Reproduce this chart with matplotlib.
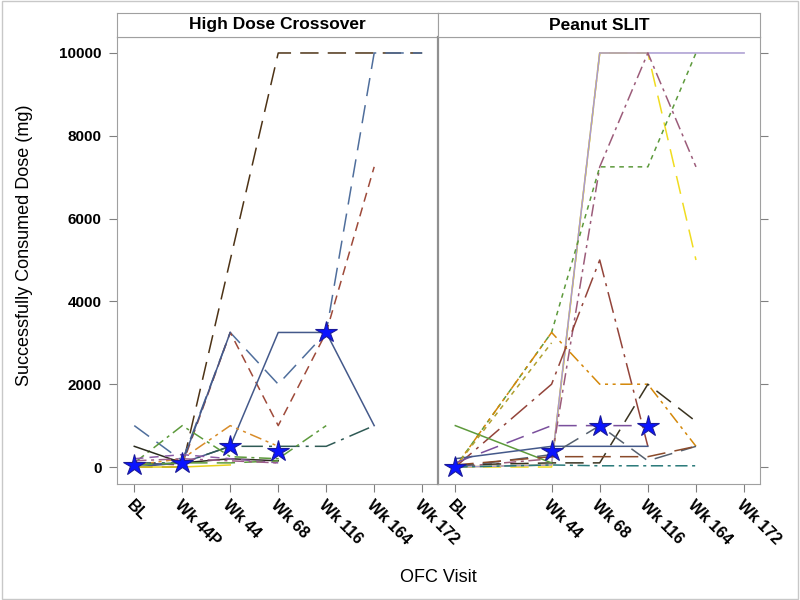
import numpy as np
import matplotlib.pyplot as plt
from matplotlib.patches import Rectangle

plt.rcParams['font.family'] = ['Liberation Sans', 'DejaVu Sans']

visits = ['BL', 'Wk 44P', 'Wk 44', 'Wk 68', 'Wk 116', 'Wk 164', 'Wk 172']
panels = ['High Dose Crossover', 'Peanut SLIT']
n = None

# High Dose Crossover subjects (BL, 44P, 44, 68, 116, 164, 172)
hd_1 = [0, 0, n, 10000, 10000, 10000, 10000]
hd_2 = [1000, 150, 3250, 2000, 3250, 10000, 10000]
hd_3 = [100, 50, 3250, 1000, 3250, 7250, n]
hd_4 = [50, 100, 500, 3250, 3250, 1000, n]
hd_5 = [0, 100, 3250, n, n, n, n]
hd_6 = [100, 100, 500, 500, 500, 1000, n]
hd_7 = [100, 1000, 250, 200, 1000, n, n]
hd_8 = [50, 200, 1000, 500, n, n, n]
hd_9 = [500, 100, 200, 150, n, n, n]
hd_10 = [200, 300, 200, 100, n, n, n]
hd_11 = [0, 0, 50, n, n, n, n]
hd_12 = [50, 100, 100, 150, n, n, n]
hd_13 = [150, 200, 150, 100, n, n, n]
hd_star = [50, 100, 500, 375, 3250, n, n]

# Peanut SLIT subjects (no Wk 44P visit)
sl_1 = [0, n, 50, 10000, 10000, n, n]
sl_2 = [0, n, 0, 10000, 10000, 5000, n]
sl_3 = [0, n, 50, 10000, 10000, 10000, 10000]
sl_4 = [0, n, 200, 7250, 10000, 7250, n]
sl_5 = [0, n, 3250, 7250, 7250, 10000, n]
sl_6 = [0, n, 3250, 2000, 2000, 500, n]
sl_7 = [50, n, 100, 100, 2000, 1100, n]
sl_8 = [0, n, 2000, 5000, 500, n, n]
sl_9 = [1000, n, 100, n, n, n, n]
sl_10 = [100, n, 1000, 1000, 1000, n, n]
sl_11 = [200, n, 500, 500, 500, n, n]
sl_12 = [0, n, 300, 1000, 150, 500, n]
sl_13 = [0, n, 50, 30, 30, 30, n]
sl_14 = [50, n, 250, 250, 250, 500, n]
sl_15 = [0, n, 3000, n, n, n, n]
sl_star = [0, n, 375, 1000, 1000, n, n]

hd_lines = [hd_1, hd_2, hd_3, hd_4, hd_5, hd_6, hd_7, hd_8, hd_9, hd_10, hd_11, hd_12, hd_13]
sl_lines = [sl_1, sl_2, sl_3, sl_4, sl_5, sl_6, sl_7, sl_8, sl_9, sl_10, sl_11, sl_12, sl_13, sl_14, sl_15]

LD = (0, (12, 6))
DA = (0, (6, 4))
SD = (0, (3, 3))
DD = (0, (8, 3, 2, 3))
LDD = (0, (14, 4, 2, 4))
D2 = (0, (8, 3, 2, 3, 2, 3))

hd_styles = [('#4d3316', LD), ('#4f6e9c', LD), ('#9e4a3a', DA), ('#44598a', '-'),
             ('#44598a', '-'), ('#2f5a55', LDD), ('#5d9a3c', DD), ('#d88c2a', D2),
             ('#2b2b1e', '-'), ('#8a5aa5', DA), ('#e8d21c', '-'), ('#5d9a3c', LD),
             ('#9c5c8a', DD)]
sl_styles = [('#f0dc20', '-'), ('#f0dc20', LD), ('#a99ad0', '-'), ('#9c5c7a', DD),
             ('#5d9a3c', SD), ('#d4880a', D2), ('#3a3320', LD), ('#93443a', LDD),
             ('#5d9a3c', '-'), ('#7a4f9c', LD), ('#44598a', '-'), ('#55606e', LD),
             ('#2a7a7a', DD), ('#8a4a2a', LD), ('#b0a030', SD)]

fig = plt.figure(figsize=(8, 6), dpi=100)
fig.patches.append(Rectangle((0.002, 0.002), 0.996, 0.996, transform=fig.transFigure,
                             fill=False, edgecolor='#c8c8c8', lw=1))

x0, xm, x1 = 117 / 800, 438 / 800, 760 / 800
yb, yt = 1 - 484 / 600, 1 - 37 / 600
hh = 24 / 600
xs = np.arange(len(visits))

for k, (title, lines, styles, star) in enumerate(
        [(panels[0], hd_lines, hd_styles, hd_star), (panels[1], sl_lines, sl_styles, sl_star)]):
    left = x0 if k == 0 else xm
    width = (xm - x0) if k == 0 else (x1 - xm)
    ax = fig.add_axes([left, yb, width, yt - yb])
    for vals, (c, ls) in zip(lines, styles):
        v = np.array([np.nan if q is None else q for q in vals], dtype=float)
        m = ~np.isnan(v)
        ax.plot(xs[m], v[m], color=c, ls=ls, lw=1.1)
    s = np.array([np.nan if q is None else q for q in star], dtype=float)
    m = ~np.isnan(s)
    ax.plot(xs[m], s[m], ls='none', marker='*', ms=16, mfc='#0a14ff', mec='#1a1a9a', mew=0.8, zorder=5)
    ax.set_xlim(-0.36, 6.33)
    ax.set_ylim(-410, 10386)
    for sp in ax.spines.values():
        sp.set_color('#a0a0a0')
    ax.tick_params(colors='#808080', length=6, labelcolor='black')
    ax.tick_params(axis='y', pad=5)
    if k == 0:
        ax.set_xticks(xs)
        ax.set_xticklabels(visits)
        ax.set_yticks(range(0, 10001, 2000))
        ax.set_yticklabels([str(t) for t in range(0, 10001, 2000)], fontsize=11, fontweight='bold')
    else:
        tx = [0, 2, 3, 4, 5, 6]
        ax.set_xticks(tx)
        ax.set_xticklabels([visits[i] for i in tx])
        ax.set_yticks(range(0, 10001, 2000))
        ax.yaxis.tick_right()
        ax.tick_params(axis='y', labelright=False)
        ax.spines['left'].set_color('#909090')
        ax.spines['left'].set_linewidth(1.6)
    for lab in ax.get_xticklabels():
        lab.set_rotation(-45)
        lab.set_ha('left')
        lab.set_va('top')
        lab.set_rotation_mode('anchor')
        lab.set_fontsize(11.5)
        lab.set_fontweight('bold')
    hax = fig.add_axes([left, yt, width, hh])
    hax.set_xticks([])
    hax.set_yticks([])
    for sp in hax.spines.values():
        sp.set_color('#a0a0a0')
    hax.text(0.5, 0.5, title, ha='center', va='center', fontsize=12.5, fontweight='bold',
             transform=hax.transAxes)

fig.text(25 / 800, 1 - 245 / 600, 'Successfully Consumed Dose (mg)', rotation=90,
         ha='center', va='center', fontsize=13)
fig.text((x0 + x1) / 2, 1 - 578 / 600, 'OFC Visit', ha='center', va='center', fontsize=13)

fig.savefig('out.png', dpi=100)
